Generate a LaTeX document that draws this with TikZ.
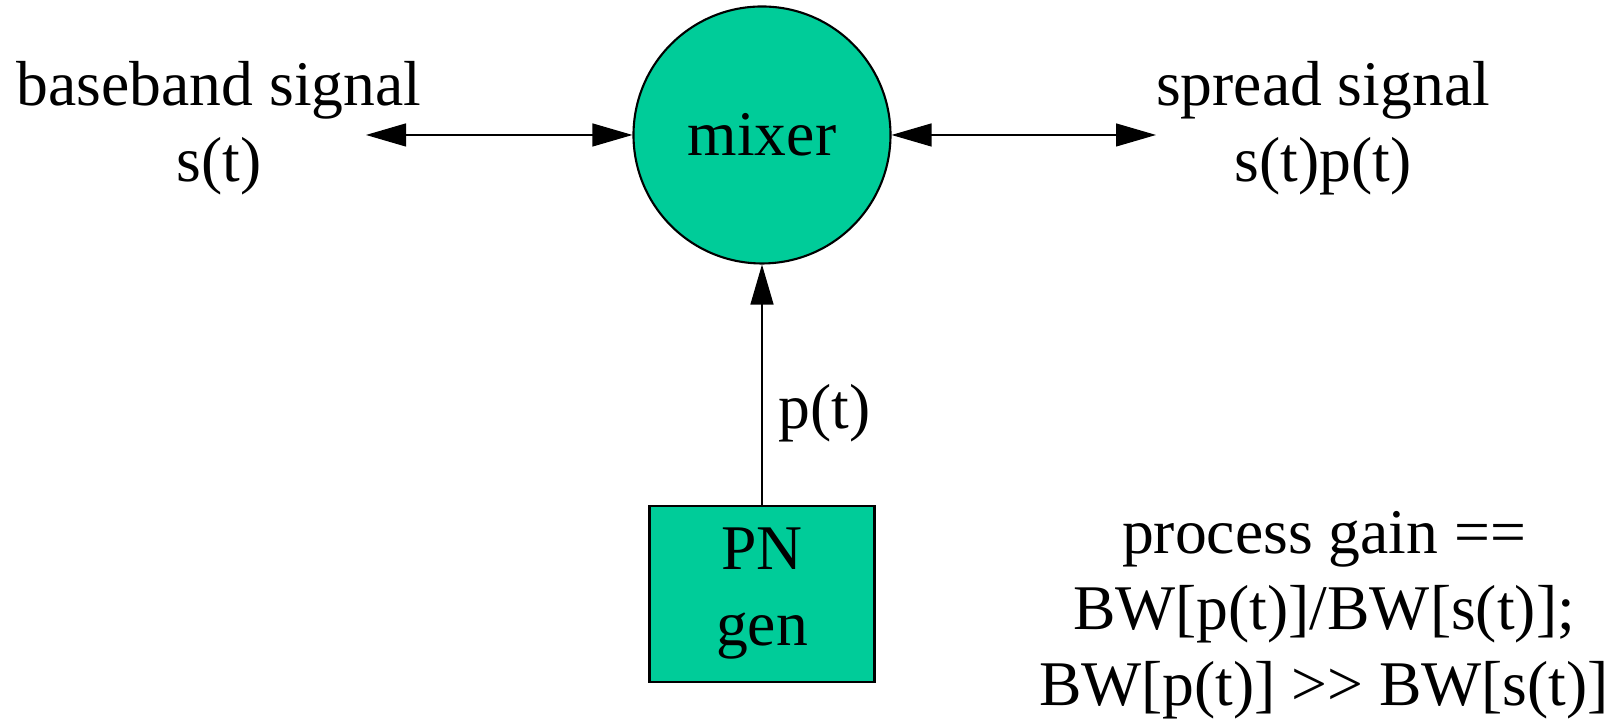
\documentclass[tikz,border=0pt]{standalone}
\usepackage{fontspec}
\setmainfont{Liberation Serif}
\usepackage{tikz}
\usetikzlibrary{arrows.meta}
\definecolor{Mix}{HTML}{00CC99}

\begin{document}
\begin{tikzpicture}[
  font=\fontsize{18.1pt}{21.6pt}\selectfont,
  block/.style={draw,fill=Mix,line width=0.6pt},
  link/.style={line width=0.35pt,>={Triangle[length=4mm,width=2.3mm]}}
]
\useasboundingbox (0,0) rectangle (16.18,7.2);

\node [block,circle,minimum size=2.57cm] (mixer) at (7.62,5.85) {mixer};
\node [block,minimum width=2.25cm,minimum height=1.76cm,align=center] (pngen) at (7.62,1.26) {PN\\gen};

\coordinate (inL) at (3.66,5.85);
\coordinate (outR) at (11.56,5.85);

\node [align=center] (base) at (2.19,5.92) {baseband signal\\s(t)};
\node [align=center] (spread) at (13.23,5.92) {spread signal\\s(t)p(t)};

\draw [link,<->] (inL) -- (mixer);
\draw [link,<->] (mixer) -- (outR);
\draw [link,->] (pngen) -- (mixer) node [pos=0.38,right,xshift=0.04cm] (pt) {p(t)};

\node [align=center] (gain) at (13.24,1.05) {process gain ==\\BW[p(t)]/BW[s(t)];\\BW[p(t)] >\kern0pt> BW[s(t)]};

\end{tikzpicture}
\end{document}
